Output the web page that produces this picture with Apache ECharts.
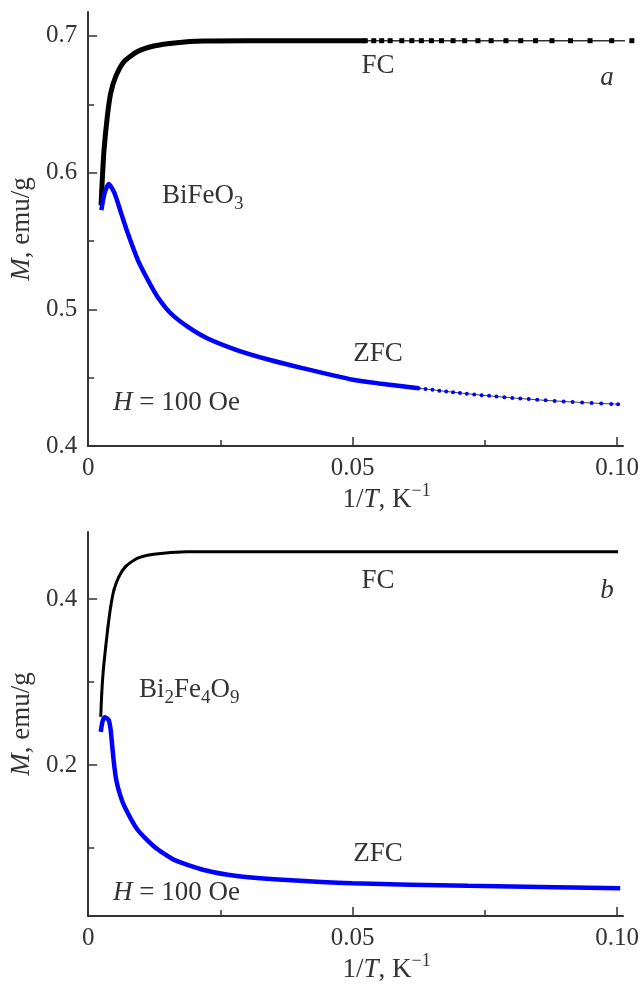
<!DOCTYPE html>
<html>
<head>
<meta charset="utf-8">
<script src="https://cdn.jsdelivr.net/npm/echarts@6/dist/echarts.min.js"></script>
<style>
  html, body { margin: 0; padding: 0; background: #fff; }
  #chart { width: 644px; height: 986px; }
</style>
</head>
<body>
<div id="chart"></div>
<script>
// ---- panel a: BiFeO3 ----
// FC, dense part (points overlap into a thick line)
var aFcX = [0.00244, 0.0027, 0.0030, 0.00362, 0.00426, 0.0052, 0.00675, 0.00925, 0.0124, 0.0168, 0.0218, 0.030, 0.040, 0.0524];
var aFcY = [0.576, 0.597, 0.6165, 0.6409, 0.658, 0.6702, 0.6811, 0.6884, 0.6926, 0.695, 0.6962, 0.6965, 0.6965, 0.6965];
// FC, sparse part (separate square markers)
var aFcSparseX = [0.0524, 0.054, 0.0555, 0.0571, 0.0593, 0.0612, 0.063, 0.0649, 0.0668, 0.069, 0.0712, 0.0737, 0.0762, 0.079, 0.0818, 0.0846, 0.0877, 0.0912, 0.0949, 0.099, 0.1028];
var aFcSparseY = [0.6965, 0.6965, 0.6965, 0.6965, 0.6965, 0.6965, 0.6965, 0.6965, 0.6965, 0.6965, 0.6965, 0.6965, 0.6965, 0.6965, 0.6965, 0.6965, 0.6965, 0.6965, 0.6965, 0.6965, 0.6965];
// ZFC, dense part
var aZfcX = [0.0025, 0.0031, 0.0039, 0.0050, 0.00625, 0.0075, 0.0094, 0.0113, 0.0131, 0.0156, 0.0188, 0.0225, 0.0281, 0.0344, 0.0407, 0.050, 0.055, 0.0625];
var aZfcY = [0.5726, 0.585, 0.5917, 0.5849, 0.5702, 0.5556, 0.536, 0.5214, 0.5092, 0.4971, 0.4873, 0.4788, 0.4702, 0.4629, 0.4568, 0.4485, 0.4458, 0.4423];
// ZFC, sparse part (dots)
var aZfcSparseX = [0.0625, 0.0638, 0.0651, 0.0664, 0.0677, 0.069, 0.0703, 0.0716, 0.073, 0.0744, 0.0758, 0.0772, 0.0787, 0.0802, 0.0817, 0.0833, 0.0849, 0.0865, 0.0882, 0.0899, 0.0916, 0.0934, 0.0952, 0.097, 0.0989, 0.1002];
var aZfcSparseY = [0.4423, 0.4417, 0.4411, 0.4405, 0.4399, 0.4394, 0.4388, 0.4383, 0.4377, 0.4372, 0.4367, 0.4362, 0.4357, 0.4352, 0.4347, 0.4343, 0.4338, 0.4334, 0.433, 0.4326, 0.4322, 0.4318, 0.4315, 0.4311, 0.4308, 0.4306];

// ---- panel b: Bi2Fe4O9 ----
var bFcX = [0.00238, 0.00257, 0.00287, 0.00332, 0.00375, 0.00426, 0.00488, 0.00582, 0.00707, 0.00925, 0.0124, 0.0186, 0.030, 0.050, 0.075, 0.1002];
var bFcY = [0.2582, 0.2864, 0.3145, 0.3425, 0.3666, 0.3907, 0.411, 0.427, 0.439, 0.449, 0.454, 0.4569, 0.457, 0.457, 0.457, 0.457];
// open-circle markers visible on the steep FC rise
var bFcDotsX = [0.00257, 0.00287, 0.00332, 0.00375, 0.00426, 0.00488, 0.00582, 0.00707];
var bFcDotsY = [0.2864, 0.3145, 0.3425, 0.3666, 0.3907, 0.411, 0.427, 0.439];
var bZfcX = [0.00238, 0.0027, 0.00313, 0.00388, 0.00426, 0.0045, 0.00488, 0.00531, 0.00595, 0.00689, 0.00938, 0.01251, 0.01627, 0.0219, 0.0281, 0.0375, 0.050, 0.0718, 0.1006];
var bZfcY = [0.240, 0.252, 0.2575, 0.2542, 0.2422, 0.2261, 0.202, 0.182, 0.1659, 0.1498, 0.1217, 0.1016, 0.0857, 0.0735, 0.0663, 0.0614, 0.0575, 0.0545, 0.0515];

// tick values
var xMajor = [0, 0.05, 0.1];
var xMinor = [0.025, 0.075];
var aYMajor = [0.4, 0.5, 0.6, 0.7];
var aYMinor = [0.45, 0.55, 0.65];
var bYMajor = [0.2, 0.4];
var bYMinor = [0.1, 0.3];

var FONT = 'Liberation Serif';
var TXT = '#333';

function pairs(xs, ys) {
  return xs.map(function (x, i) { return [x, ys[i]]; });
}

function tok(size, italic, extra) {
  var o = { fontFamily: FONT, fontSize: size, fontStyle: italic ? 'italic' : 'normal', color: TXT };
  for (var k in extra) o[k] = extra[k];
  return o;
}

var richBase = {
  n: tok(27, false, { lineHeight: 36 }),
  i: tok(27, true, { lineHeight: 36 }),
  sub: tok(19, false, { lineHeight: 19, verticalAlign: 'bottom' }),
  sup: tok(18, false, { lineHeight: 18, verticalAlign: 'top' })
};

function mainX(grid) {
  return {
    gridIndex: grid, type: 'value', min: 0, max: 0.10113, position: 'bottom',
    axisLine: { show: true, onZero: false, lineStyle: { color: TXT, width: 2 } },
    axisTick: { show: true, inside: true, length: 9, customValues: xMajor, lineStyle: { color: TXT, width: 1.5 } },
    axisLabel: {
      customValues: xMajor, margin: 10, color: TXT, fontFamily: FONT, fontSize: 25,
      formatter: function (v) { return v === 0 ? '0' : v.toFixed(2); }
    },
    splitLine: { show: false },
    name: '{n|1/}{i|T}{n|, K}{sup|\u22121}',
    nameLocation: 'middle', nameGap: 32,
    nameTextStyle: { padding: [0, 0, 0, 62], rich: richBase }
  };
}
function minorX(grid) {
  return {
    gridIndex: grid, type: 'value', min: 0, max: 0.10113, position: 'bottom',
    axisLine: { show: false, onZero: false },
    axisTick: { show: true, inside: true, length: 6, customValues: xMinor, lineStyle: { color: TXT, width: 1.5 } },
    axisLabel: { show: false }, splitLine: { show: false }
  };
}
function mainY(grid, min, max, major) {
  return {
    gridIndex: grid, type: 'value', min: min, max: max, position: 'left',
    axisLine: { show: true, onZero: false, lineStyle: { color: TXT, width: 2 } },
    axisTick: { show: true, inside: true, length: 9, customValues: major, lineStyle: { color: TXT, width: 1.5 } },
    axisLabel: { customValues: major, margin: 11, color: TXT, fontFamily: FONT, fontSize: 25,
      formatter: function (v) { return v.toFixed(1); } },
    splitLine: { show: false },
    name: '{i|M}{n|, emu/g}', nameLocation: 'middle', nameGap: 42,
    nameTextStyle: { rich: richBase }
  };
}
function minorY(grid, min, max, minor) {
  return {
    gridIndex: grid, type: 'value', min: min, max: max, position: 'left',
    axisLine: { show: false, onZero: false },
    axisTick: { show: true, inside: true, length: 6, customValues: minor, lineStyle: { color: TXT, width: 1.5 } },
    axisLabel: { show: false }, splitLine: { show: false }
  };
}

function label(x, y, text, align) {
  return {
    type: 'text', x: x, y: y,
    style: { text: text, rich: richBase, align: align || 'center', verticalAlign: 'middle',
      fontFamily: FONT, fontSize: 27, fill: TXT }
  };
}

var myChart = echarts.init(document.getElementById('chart'));
myChart.setOption({
  animation: false,
  backgroundColor: '#fff',
  grid: [
    { left: 84, top: 12, width: 539, height: 434 },
    { left: 84, top: 532, width: 539, height: 384 }
  ],
  xAxis: [mainX(0), minorX(0), mainX(1), minorX(1)],
  yAxis: [
    mainY(0, 0.4, 0.7175, aYMajor), minorY(0, 0.4, 0.7175, aYMinor),
    mainY(1, 0.0181, 0.4807, bYMajor), minorY(1, 0.0181, 0.4807, bYMinor)
  ],
  graphic: [
    label(378, 66, '{n|FC}'),
    label(607, 78, '{i|a}'),
    label(162, 196, '{n|BiFeO}{sub|3}', 'left'),
    label(378, 354, '{n|ZFC}'),
    label(113, 403, '{i|H}{n| = 100 Oe}', 'left'),
    label(378, 581, '{n|FC}'),
    label(607, 591, '{i|b}'),
    label(139, 690, '{n|Bi}{sub|2}{n|Fe}{sub|4}{n|O}{sub|9}', 'left'),
    label(378, 854, '{n|ZFC}'),
    label(113, 893, '{i|H}{n| = 100 Oe}', 'left')
  ],
  series: [
    {
      type: 'line', xAxisIndex: 0, yAxisIndex: 0, data: pairs(aFcX, aFcY),
      showSymbol: false, smooth: 0.2, clip: false,
      lineStyle: { color: '#000', width: 5 }
    },
    {
      type: 'line', xAxisIndex: 0, yAxisIndex: 0, data: pairs(aFcSparseX, aFcSparseY),
      symbol: 'rect', symbolSize: 5, showSymbol: true, clip: false,
      itemStyle: { color: '#000' }, lineStyle: { color: '#333', width: 1.5 }
    },
    {
      type: 'line', xAxisIndex: 0, yAxisIndex: 0, data: pairs(aZfcX, aZfcY),
      showSymbol: false, smooth: 0.2,
      lineStyle: { color: '#0000ff', width: 4.5 }
    },
    {
      type: 'line', xAxisIndex: 0, yAxisIndex: 0, data: pairs(aZfcSparseX, aZfcSparseY),
      symbol: 'circle', symbolSize: 4, showSymbol: true,
      itemStyle: { color: '#0000ff' }, lineStyle: { color: '#444', width: 1 }
    },
    {
      type: 'line', xAxisIndex: 2, yAxisIndex: 2, data: pairs(bFcX, bFcY),
      showSymbol: false, smooth: 0.2,
      lineStyle: { color: '#000', width: 3 }
    },
    {
      type: 'scatter', xAxisIndex: 2, yAxisIndex: 2, data: pairs(bFcDotsX, bFcDotsY),
      symbol: 'circle', symbolSize: 2.5,
      itemStyle: { color: '#fff', borderColor: '#000', borderWidth: 0.5 }
    },
    {
      type: 'line', xAxisIndex: 2, yAxisIndex: 2, data: pairs(bZfcX, bZfcY),
      showSymbol: false, smooth: 0.2,
      lineStyle: { color: '#0000ff', width: 4.5 }
    }
  ]
});
</script>
</body>
</html>
